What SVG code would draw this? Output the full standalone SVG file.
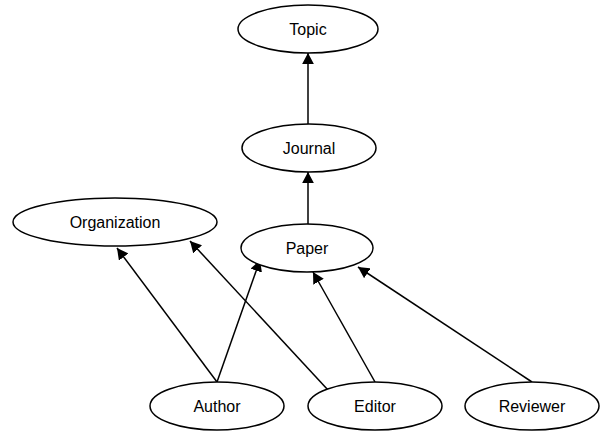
<svg xmlns="http://www.w3.org/2000/svg" width="602" height="434" viewBox="0 0 602 434">
  <style>
    .node ellipse { fill: #ffffff; stroke: #000000; stroke-width: 1.5; }
    .node text { font-family: "Liberation Sans", Arial, sans-serif; font-size: 16px; fill: #000000; text-anchor: middle; }
    .edge { stroke: #000000; stroke-width: 1.5; fill: none; marker-end: url(#arrow); }
  </style>
  <defs>
    <marker id="arrow" viewBox="0 0 10 10" refX="10" refY="5" markerWidth="7.5" markerHeight="8" markerUnits="strokeWidth" orient="auto" preserveAspectRatio="none">
      <path d="M0,0 L10,5 L0,10 Z" fill="#000000"/>
    </marker>
  </defs>
  <rect width="602" height="434" fill="#ffffff"/>

  <g id="connectors">
    <line class="edge" x1="308" y1="124" x2="308" y2="53"/>
    <line class="edge" x1="308" y1="224" x2="308" y2="172"/>
    <line class="edge" x1="217" y1="382" x2="117" y2="248"/>
    <line class="edge" x1="217" y1="382" x2="260" y2="260"/>
    <line class="edge" x1="328" y1="390" x2="190" y2="241"/>
    <line class="edge" x1="375" y1="382" x2="313" y2="272"/>
    <line class="edge" x1="532" y1="382" x2="358" y2="267"/>
  </g>

  <g id="topic" class="node">
    <ellipse cx="308" cy="29" rx="70" ry="24"/>
    <text x="308" y="34.5">Topic</text>
  </g>
  <g id="journal" class="node">
    <ellipse cx="309" cy="148" rx="67" ry="24"/>
    <text x="309" y="153.5">Journal</text>
  </g>
  <g id="organization" class="node">
    <ellipse cx="115" cy="222" rx="102" ry="24"/>
    <text x="115" y="227.5">Organization</text>
  </g>
  <g id="paper" class="node">
    <ellipse cx="307" cy="248" rx="66" ry="24"/>
    <text x="307" y="253.5">Paper</text>
  </g>
  <g id="author" class="node">
    <ellipse cx="217" cy="406" rx="67" ry="24"/>
    <text x="217" y="411.5">Author</text>
  </g>
  <g id="editor" class="node">
    <ellipse cx="375" cy="406" rx="67" ry="24"/>
    <text x="375" y="411.5">Editor</text>
  </g>
  <g id="reviewer" class="node">
    <ellipse cx="532" cy="406" rx="67" ry="24"/>
    <text x="532" y="411.5">Reviewer</text>
  </g>
</svg>
